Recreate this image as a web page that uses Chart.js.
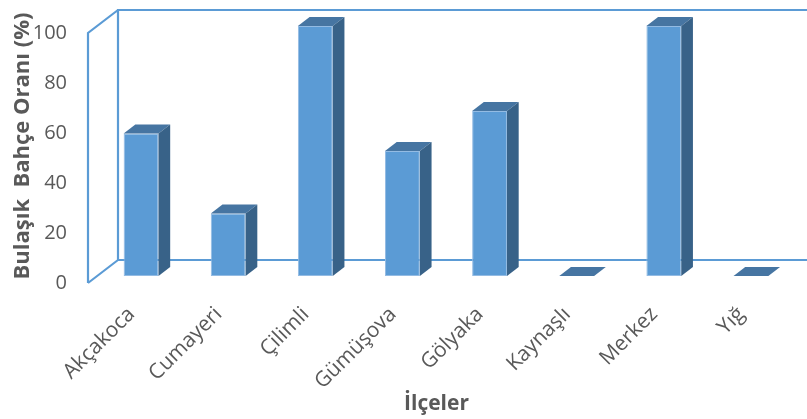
<!DOCTYPE html>
<html>
<head>
<meta charset="utf-8">
<script src="https://cdn.jsdelivr.net/npm/chart.js@4/dist/chart.umd.min.js"></script>
<style>
  html, body { margin: 0; padding: 0; background: #ffffff; }
  #wrap { width: 807px; height: 419px; }
</style>
</head>
<body>
<div id="wrap"><canvas id="c" width="807" height="419"></canvas></div>
<script>
// District names (x categories)
const districts = ['Akçakoca', 'Cumayeri', 'Çilimli', 'Gümüşova', 'Gölyaka', 'Kaynaşlı', 'Merkez', 'Yığ'];
// Share of infected gardens per district (%)
const infectedShare = [57, 25, 100, 50, 66, 0, 100, 0];
// Value axis range and step
const yMin = 0;
const yMax = 100;
const yStep = 20;

const yTitle = 'Bulaşık  Bahçe Oranı (%)';
const xTitle = 'İlçeler';

const FRAME = '#5B9BD5';
const FRONT = '#5B9BD5';
const TOP = '#4675A2';
const SIDE = '#386288';
const TEXT = '#595959';

// Perspective offsets: back wall relative to the front plane,
// bar plane relative to the front plane, and bar depth.
const WALL_DX = 30, WALL_DY = -23;
const BAR_DX = 9.5, BAR_DY = -7;
const DEPTH_DX = 11.7, DEPTH_DY = -9;

const box3d = {
  id: 'box3d',
  beforeDatasetsDraw(chart) {
    const { ctx, chartArea: a, scales: { y } } = chart;
    const y0 = y.getPixelForValue(yMin);
    const y1 = y.getPixelForValue(yMax);
    ctx.save();
    ctx.strokeStyle = FRAME;
    ctx.lineWidth = 2.2;
    ctx.lineJoin = 'miter';
    ctx.beginPath();
    // left side wall
    ctx.moveTo(a.left, y0);
    ctx.lineTo(a.left, y1);
    ctx.lineTo(a.left + WALL_DX, y1 + WALL_DY);
    ctx.moveTo(a.left, y0);
    ctx.lineTo(a.left + WALL_DX, y0 + WALL_DY);
    // back wall
    ctx.moveTo(a.right + WALL_DX, y1 + WALL_DY);
    ctx.lineTo(a.left + WALL_DX, y1 + WALL_DY);
    ctx.lineTo(a.left + WALL_DX, y0 + WALL_DY);
    ctx.lineTo(a.right + WALL_DX, y0 + WALL_DY);
    ctx.stroke();
    ctx.restore();

    // bars sit a little behind the front plane
    ctx.save();
    ctx.translate(BAR_DX, BAR_DY);
  },
  afterDatasetsDraw(chart) {
    const { ctx } = chart;
    const meta = chart.getDatasetMeta(0);
    meta.data.forEach((bar) => {
      const { x, y, base, width } = bar.getProps(['x', 'y', 'base', 'width'], true);
      const l = x - width / 2, r = x + width / 2;
      // top face
      ctx.fillStyle = TOP;
      ctx.beginPath();
      ctx.moveTo(l, y);
      ctx.lineTo(l + DEPTH_DX, y + DEPTH_DY);
      ctx.lineTo(r + DEPTH_DX, y + DEPTH_DY);
      ctx.lineTo(r, y);
      ctx.closePath();
      ctx.fill();
      // side face
      if (base - y > 0.5) {
        ctx.fillStyle = SIDE;
        ctx.beginPath();
        ctx.moveTo(r, y);
        ctx.lineTo(r + DEPTH_DX, y + DEPTH_DY);
        ctx.lineTo(r + DEPTH_DX, base + DEPTH_DY);
        ctx.lineTo(r, base);
        ctx.closePath();
        ctx.fill();
      }
    });
    ctx.restore();
  },
  afterDraw(chart) {
    const { ctx } = chart;
    ctx.save();
    ctx.translate(23, 146);
    ctx.rotate(-Math.PI / 2);
    ctx.font = 'bold 22px "Open Sans"';
    ctx.fillStyle = TEXT;
    ctx.textAlign = 'center';
    ctx.textBaseline = 'middle';
    ctx.fillText(yTitle, 0, 0);
    ctx.restore();
  }
};

new Chart(document.getElementById('c'), {
  type: 'bar',
  data: {
    labels: districts,
    datasets: [{
      data: infectedShare,
      backgroundColor: FRONT,
      borderColor: '#93BBE3',
      borderWidth: 1,
      borderSkipped: false,
      categoryPercentage: 1,
      barPercentage: 0.4,
      clip: false
    }]
  },
  options: {
    responsive: false,
    animation: false,
    devicePixelRatio: 1,
    layout: { padding: { left: 0, top: 28, right: 22, bottom: 0 } },
    plugins: {
      legend: { display: false },
      tooltip: { enabled: false }
    },
    scales: {
      x: {
        grid: { display: false, drawTicks: false },
        border: { display: false },
        ticks: {
          autoSkip: false,
          minRotation: 45,
          maxRotation: 45,
          padding: 19,
          color: TEXT,
          font: { family: 'Open Sans', size: 21 }
        },
        title: {
          display: true,
          text: xTitle,
          color: TEXT,
          font: { family: 'Open Sans', size: 21, weight: 'bold' },
          padding: { top: 0, bottom: 2 }
        },
        afterFit(scale) { scale.height = 136; }
      },
      y: {
        min: yMin,
        max: yMax,
        grid: { display: false, drawTicks: false },
        border: { display: false },
        ticks: {
          stepSize: yStep,
          padding: 21,
          color: TEXT,
          font: { family: 'Open Sans', size: 20 }
        },
        afterFit(scale) { scale.width = 88; }
      }
    }
  },
  plugins: [box3d]
});
</script>
</body>
</html>
